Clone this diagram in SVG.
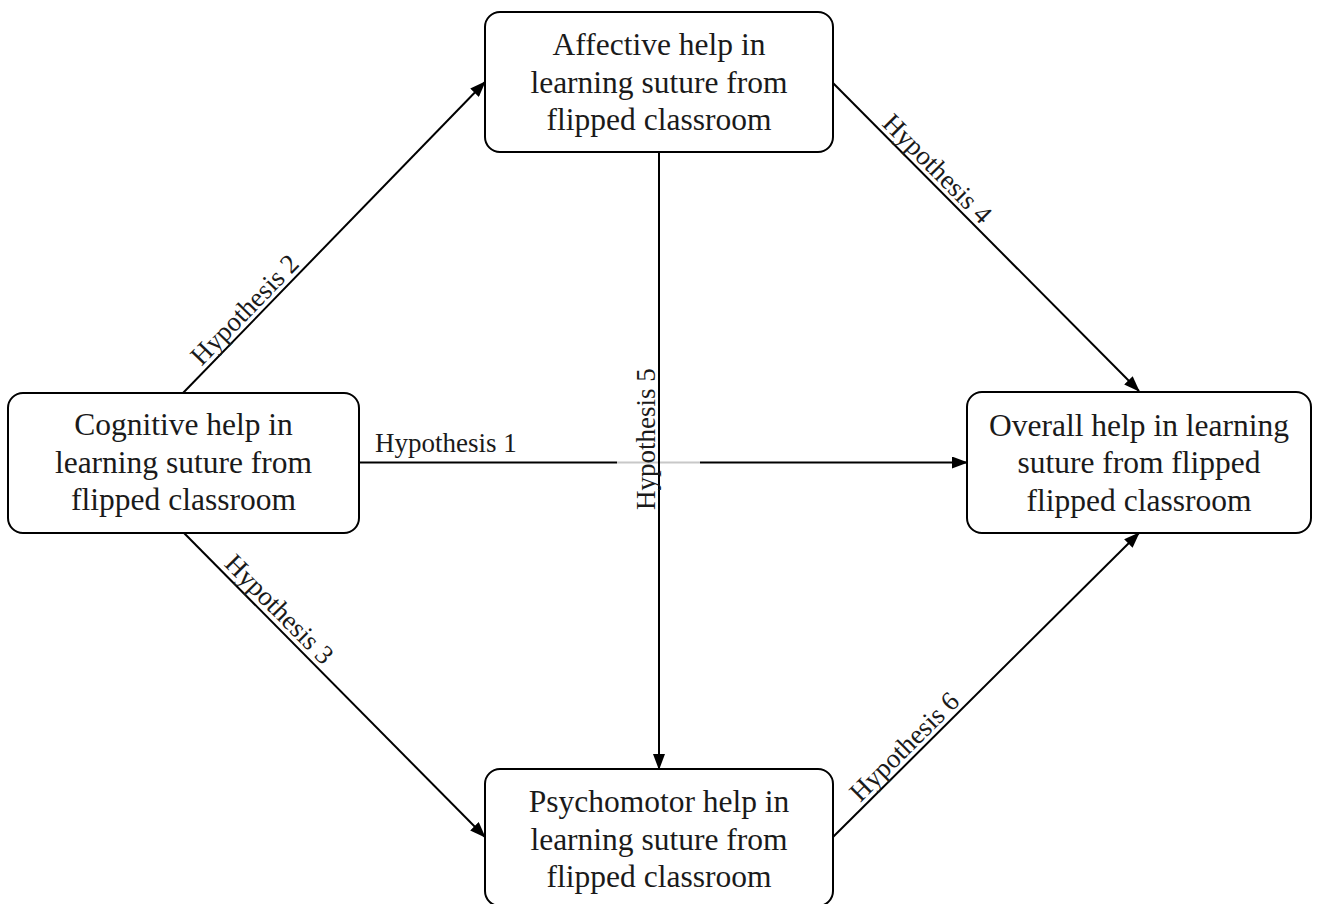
<svg xmlns="http://www.w3.org/2000/svg" width="1319" height="904" viewBox="0 0 1319 904">
<style>
.box{fill:#fff;stroke:#000;stroke-width:2}
.t{font-family:"Liberation Serif","Times New Roman",serif;font-size:31.5px;fill:#1a1a1a;text-anchor:middle}
.l{font-family:"Liberation Serif","Times New Roman",serif;font-size:27px;fill:#1a1a1a}
.c{fill:none;stroke:#000;stroke-width:2}
</style>
<defs>
<marker id="arr" markerUnits="userSpaceOnUse" markerWidth="16" markerHeight="12" refX="15" refY="6" orient="auto">
<path d="M0,0 L16,6 L0,12 Z" fill="#000"/>
</marker>
</defs>
<rect width="1319" height="904" fill="#fff"/>
<g id="connectors">
<line class="c" x1="183" y1="393" x2="485" y2="82" marker-end="url(#arr)"/>
<line class="c" x1="184" y1="533" x2="485" y2="837" marker-end="url(#arr)"/>
<line class="c" x1="833" y1="83" x2="1139" y2="391" marker-end="url(#arr)"/>
<line class="c" x1="833" y1="837" x2="1139" y2="533" marker-end="url(#arr)"/>
<line class="c" x1="359" y1="462.5" x2="617" y2="462.5"/>
<line x1="617" y1="462.5" x2="700" y2="462.5" stroke="#c8c8c8" stroke-width="2"/>
<line class="c" x1="700" y1="462.5" x2="967" y2="462.5" marker-end="url(#arr)"/>
<line class="c" x1="659" y1="152" x2="659" y2="769" marker-end="url(#arr)"/>
<text class="l" x="375" y="452">Hypothesis 1</text>
<text class="l" text-anchor="middle" transform="translate(251,316) rotate(-45.8)">Hypothesis 2</text>
<text class="l" text-anchor="middle" transform="translate(273,615.5) rotate(45.3)">Hypothesis 3</text>
<text class="l" text-anchor="middle" transform="translate(931,175) rotate(45.2)">Hypothesis 4</text>
<text class="l" text-anchor="middle" transform="translate(655,439) rotate(-90)">Hypothesis 5</text>
<text class="l" text-anchor="middle" transform="translate(910.5,753) rotate(-44.8)">Hypothesis 6</text>
</g>
<g id="affective">
<rect class="box" x="485" y="12" width="348" height="140" rx="15"/>
<text class="t" x="659" y="55">Affective help in</text>
<text class="t" x="659" y="92.5">learning suture from</text>
<text class="t" x="659" y="130">flipped classroom</text>
</g>
<g id="cognitive">
<rect class="box" x="8" y="393" width="351" height="140" rx="15"/>
<text class="t" x="183.5" y="435">Cognitive help in</text>
<text class="t" x="183.5" y="472.5">learning suture from</text>
<text class="t" x="183.5" y="510">flipped classroom</text>
</g>
<g id="overall">
<rect class="box" x="967" y="392" width="344" height="141" rx="15"/>
<text class="t" x="1139" y="436">Overall help in learning</text>
<text class="t" x="1139" y="473">suture from flipped</text>
<text class="t" x="1139" y="511">flipped classroom</text>
</g>
<g id="psychomotor">
<rect class="box" x="485" y="769" width="348" height="137" rx="15"/>
<text class="t" x="659" y="812">Psychomotor help in</text>
<text class="t" x="659" y="850">learning suture from</text>
<text class="t" x="659" y="887">flipped classroom</text>
</g>
</svg>
